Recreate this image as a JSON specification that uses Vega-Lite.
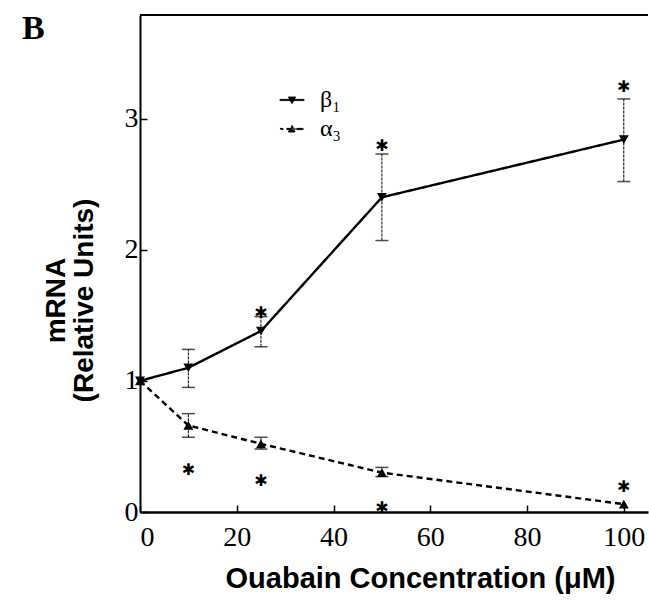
{
  "$schema": "https://vega.github.io/schema/vega-lite/v6.json",
  "width": 508,
  "height": 497,
  "autosize": {"type": "none"},
  "padding": {"left": 140, "top": 15, "right": 1, "bottom": 93},
  "background": "white",
  "config": {"view": {"stroke": null}},
  "title": {
    "text": "B",
    "anchor": "start",
    "frame": "group",
    "orient": "top",
    "offset": -32,
    "dx": -118,
    "font": "Liberation Serif",
    "fontSize": 34,
    "fontWeight": "bold",
    "color": "black"
  },
  "datasets": {
    "main": [
      {"series": "β₁", "conc": 0, "value": 1.0, "lo": null, "hi": null},
      {"series": "β₁", "conc": 10, "value": 1.1, "lo": 0.95, "hi": 1.24},
      {"series": "β₁", "conc": 25, "value": 1.38, "lo": 1.26, "hi": 1.49},
      {"series": "β₁", "conc": 50, "value": 2.4, "lo": 2.07, "hi": 2.73},
      {"series": "β₁", "conc": 100, "value": 2.84, "lo": 2.52, "hi": 3.15},
      {"series": "α₃", "conc": 0, "value": 1.0, "lo": null, "hi": null},
      {"series": "α₃", "conc": 10, "value": 0.66, "lo": 0.57, "hi": 0.75},
      {"series": "α₃", "conc": 25, "value": 0.52, "lo": 0.48, "hi": 0.57},
      {"series": "α₃", "conc": 50, "value": 0.3, "lo": 0.27, "hi": 0.34},
      {"series": "α₃", "conc": 100, "value": 0.06, "lo": null, "hi": null}
    ],
    "stars": [
      {"conc": 25, "value": 1.52},
      {"conc": 50, "value": 2.79},
      {"conc": 100, "value": 3.24},
      {"conc": 10, "value": 0.32},
      {"conc": 25, "value": 0.24},
      {"conc": 50, "value": 0.03},
      {"conc": 100, "value": 0.19}
    ],
    "frame": [{"top": 3.79}]
  },
  "layer": [
    {
      "data": {"name": "main"},
      "encoding": {
        "x": {
          "field": "conc",
          "type": "quantitative",
          "scale": {"domain": [0, 105], "nice": false, "zero": false},
          "axis": {
            "title": "Ouabain Concentration (μM)",
            "values": [0, 20, 40, 60, 80, 100],
            "format": "d",
            "grid": false,
            "domainColor": "black",
            "domainWidth": 2.5,
            "tickColor": "black",
            "tickWidth": 1.5,
            "tickSize": -7,
            "labelPadding": 18,
            "labelFont": "Liberation Serif",
            "labelFontSize": 28,
            "labelColor": "black",
            "titleFont": "Liberation Sans",
            "titleFontSize": 29,
            "titleFontWeight": "bold",
            "titleColor": "black",
            "titleX": 280,
            "titleY": 52,
            "titleBaseline": "top"
          }
        },
        "y": {
          "field": "value",
          "type": "quantitative",
          "scale": {"domain": [0, 3.79], "nice": false},
          "axis": {
            "title": ["mRNA", "(Relative Units)"],
            "values": [0, 1, 2, 3],
            "format": "d",
            "grid": false,
            "domainColor": "black",
            "domainWidth": 2,
            "tickColor": "black",
            "tickWidth": 1.5,
            "tickSize": -7,
            "labelPadding": 9,
            "labelFont": "Liberation Serif",
            "labelFontSize": 28,
            "labelColor": "black",
            "titleFont": "Liberation Sans",
            "titleFontSize": 28,
            "titleFontWeight": "bold",
            "titleColor": "black",
            "titleX": -70,
            "titleY": 285,
            "titleLineHeight": 28
          }
        }
      },
      "layer": [
        {
          "mark": {"type": "line", "color": "black", "strokeWidth": 2.4},
          "encoding": {
            "strokeDash": {
              "field": "series",
              "type": "nominal",
              "scale": {"domain": ["β₁", "α₃"], "range": [[1, 0], [6, 4]]},
              "legend": {
                "title": null,
                "orient": "none",
                "legendX": 139,
                "legendY": 72,
                "symbolSize": 580,
                "symbolStrokeWidth": 1,
                "symbolStrokeColor": "black",
                "symbolFillColor": "black",
                "labelFont": "Liberation Serif",
                "labelFontSize": 24,
                "labelColor": "black",
                "labelOffset": 15,
                "rowPadding": 4,
                "encode": {
                  "symbols": {
                    "update": {
                      "shape": {"signal": "datum.value === 'β₁' ? 'M-1,-0.05L1,-0.05L1,0.05L-1,0.05ZM-0.3,-0.25L0.3,-0.25L0,0.3Z' : 'M-1,-0.05L-0.75,-0.05L-0.75,0.05L-1,0.05ZM-0.45,-0.05L1,-0.05L1,0.05L-0.45,0.05ZM-0.3,0.25L0.3,0.25L0,-0.3Z'"},
                      "fill": {"value": "black"},
                      "stroke": {"value": "black"},
                      "strokeWidth": {"value": 1},
                      "strokeDash": {"value": [1, 0]}
                    }
                  }
                }
              }
            }
          }
        },
        {
          "transform": [{"filter": "datum.series === 'β₁'"}],
          "mark": {"type": "point", "filled": true, "color": "black", "size": 100, "opacity": 1, "shape": "triangle-down"}
        },
        {
          "transform": [{"filter": "datum.series === 'α₃'"}],
          "mark": {"type": "point", "filled": true, "color": "black", "size": 100, "opacity": 1, "shape": "triangle-up"}
        },
        {
          "transform": [{"filter": "isValid(datum.lo)"}],
          "mark": {"type": "rule", "color": "black", "strokeWidth": 1, "strokeDash": [3, 1]},
          "encoding": {
            "y": {"field": "lo", "type": "quantitative"},
            "y2": {"field": "hi"}
          }
        },
        {
          "transform": [{"filter": "isValid(datum.lo)"}],
          "mark": {"type": "tick", "orient": "horizontal", "color": "black", "size": 13, "thickness": 1.5},
          "encoding": {"y": {"field": "lo", "type": "quantitative"}}
        },
        {
          "transform": [{"filter": "isValid(datum.hi)"}],
          "mark": {"type": "tick", "orient": "horizontal", "color": "black", "size": 13, "thickness": 1.5},
          "encoding": {"y": {"field": "hi", "type": "quantitative"}}
        }
      ]
    },
    {
      "data": {"name": "stars"},
      "mark": {"type": "text", "text": "✱", "font": "DejaVu Sans", "fontSize": 16, "color": "black", "baseline": "middle"},
      "encoding": {
        "x": {"field": "conc", "type": "quantitative"},
        "y": {"field": "value", "type": "quantitative"}
      }
    },
    {
      "data": {"name": "frame"},
      "mark": {"type": "rule", "color": "black", "strokeWidth": 2},
      "encoding": {"y": {"field": "top", "type": "quantitative"}}
    }
  ]
}
